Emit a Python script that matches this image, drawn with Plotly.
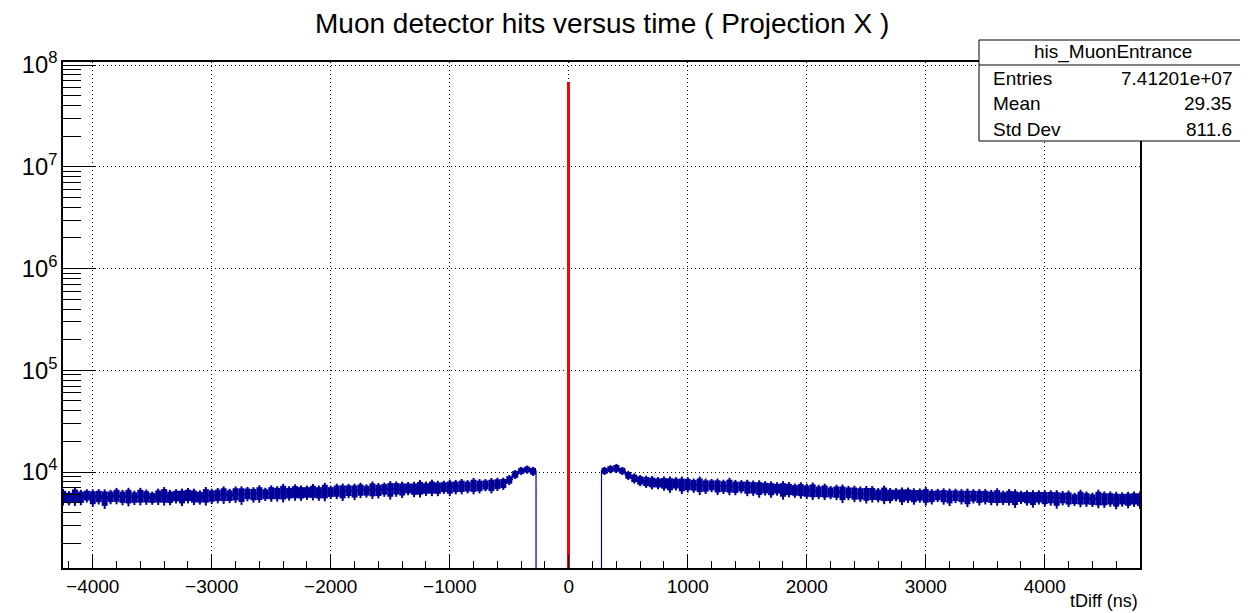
import numpy as np
import plotly.graph_objects as go

# ---------------- data ----------------
bin_width = 50.0
first_center = -4250.0

# blue histogram (tDiff, ns) counts per 50 ns bin
left_vals = [
    5750, 5600, 5850, 5700, 5900, 5650, 5800, 5550, 5750, 5900, 5700, 5800, 5650, 5850, 5750, 5600,
    5800, 5900, 5700, 5850, 5750, 5950, 5800, 5700, 5900, 5850,
    5950, 6050, 5900, 6100, 6000, 6150, 6050, 6200, 6100, 6250, 6200, 6350, 6250, 6400, 6300,
    6350, 6450, 6300, 6500, 6400, 6550, 6450, 6600, 6500, 6700, 6600, 6750, 6650, 6800, 6750,
    6900, 6800, 6950, 6850, 7000, 6950, 7100, 7000, 7150, 7100,
    7200, 7300, 7250, 7400, 7350, 7500, 7450, 7650, 7750,
    8400, 9500, 10300, 10600, 10200,
]
gap_vals = [0] * 11
right_vals = [
    10300, 10700, 10900, 10300, 9300, 8700, 8300, 8100, 7950, 7850,
    7800, 7650, 7750, 7550, 7600, 7450, 7500, 7350, 7450, 7300, 7250, 7350, 7150, 7250, 7100,
    7050, 6950, 7000, 6850, 6900, 6750, 6800, 6650, 6700, 6550, 6600, 6450, 6500, 6350, 6400,
    6250, 6300, 6200, 6150, 6100,
    6150, 6000, 6100, 5950, 6050, 5900, 6000, 5850, 5950, 5900, 5800, 5950, 5850, 5750, 5900,
    5800, 5700, 5850, 5750, 5800,
    5700, 5800, 5650, 5750, 5600, 5700, 5650, 5550, 5700, 5600, 5650, 5500, 5600, 5550, 5450,
    5600, 5500, 5400, 5550, 5450, 5500, 5350, 5450, 5400, 5500, 5400,
]
# bin-to-bin spread (percent) seen as the thickness of the band
left_spread = [
    16, 14, 18, 15, 13, 17, 15, 19, 14, 16, 15, 18, 14, 17, 15, 13, 16, 18, 15, 14, 17, 15, 16, 14, 18, 15,
    15, 17, 14, 16, 18, 14, 15, 17, 13, 16, 15, 18, 14, 16, 15,
    14, 16, 15, 18, 13, 15, 17, 14, 16, 15, 13, 17, 15, 14, 18, 15, 16, 13, 15, 17, 14, 16, 15, 13, 16,
    14, 15, 13, 16, 14, 12, 15, 13, 12,
    10, 9, 8, 8, 9,
]
gap_spread = [0] * 11
right_spread = [
    8, 8, 9, 8, 9, 10, 11, 12, 13, 12,
    14, 16, 13, 17, 15, 14, 18, 15, 13, 16, 14, 17, 15, 13, 16,
    15, 17, 14, 16, 13, 18, 15, 14, 16, 15, 17, 14, 16, 13, 15, 18, 14, 16, 15, 17,
    16, 14, 18, 15, 13, 17, 15, 16, 14, 18, 15, 13, 16, 17, 14, 15, 18, 14, 16, 15,
    15, 17, 14, 16, 18, 13, 15, 17, 14, 16, 15, 18, 14, 16, 13, 17, 15, 14, 18, 16, 15, 17, 14, 16, 15, 17,
]

# red histogram: the prompt peak
red_x = [0.0]
red_vals = [6.8e7]

stats_title = "his_MuonEntrance"
stats_names = ["Entries", "Mean", "Std Dev"]
stats_values = ["7.41201e+07", "29.35", "811.6"]

x_range = [-4250, 4800]
y_range = [3.057, 8.03]   # log10

# ---------------- build ----------------
vals = np.array(left_vals + gap_vals + right_vals, dtype=float)
spread = np.array(left_spread + gap_spread + right_spread, dtype=float) / 100.0
centers = first_center + bin_width * np.arange(len(vals))

y_floor = 10 ** (y_range[0] - 1)
y_plot = np.where(vals > 0, vals, y_floor)
err = np.where(vals > 0, vals * spread, 0.0)
spikes = err * 1.15
core = err * 0.85

navy = "#000099"
font_family = "Liberation Sans, Arial, Helvetica, sans-serif"

fig = go.Figure()

fig.add_trace(go.Bar(
    x=red_x, y=red_vals, width=25, marker=dict(color="#ff0000", line=dict(width=0)),
    showlegend=False, hoverinfo="skip",
))

# thin spikes (full spread)
fig.add_trace(go.Scatter(
    x=centers, y=y_plot, mode="lines",
    line=dict(color=navy, width=1.2, shape="hvh"),
    error_y=dict(type="data", array=spikes, arrayminus=spikes, color=navy, thickness=2, width=0),
    showlegend=False, hoverinfo="skip",
))
# dense core of the band
fig.add_trace(go.Scatter(
    x=centers, y=y_plot, mode="lines",
    line=dict(color=navy, width=0),
    error_y=dict(type="data", array=core, arrayminus=core, color=navy, thickness=6, width=0),
    showlegend=False, hoverinfo="skip",
))

# figure sits inside the page body (8 px margin)
W, H = 1240, 605
L, R, T, B = 55, 108, 54, 45
pw, ph = W - L - R, H - T - B
OFF = 8  # page offset of the figure


def px(x):
    return (x - OFF - L) / pw


def py(y):
    return (H - B - (y - OFF)) / ph


shapes = [
    dict(type="rect", xref="paper", yref="paper", x0=px(979), x1=px(1247), y0=py(141), y1=py(40),
         line=dict(color="black", width=1), fillcolor="white", layer="above"),
    dict(type="line", xref="paper", yref="paper", x0=px(979), x1=px(1247), y0=py(65), y1=py(65),
         line=dict(color="black", width=1), layer="above"),
]

annotations = [
    dict(text="Muon detector hits versus time ( Projection X )", xref="paper", yref="paper",
         x=px(601.5), y=py(24), xanchor="center", yanchor="middle", showarrow=False,
         font=dict(size=28, color="black", family=font_family)),
    dict(text="tDiff (ns)", xref="paper", yref="paper", x=1.0, y=py(601),
         xanchor="right", yanchor="middle", showarrow=False,
         font=dict(size=18, color="black", family=font_family)),
    dict(text=stats_title, xref="paper", yref="paper", x=px(1113), y=py(52),
         xanchor="center", yanchor="middle", showarrow=False,
         font=dict(size=19, color="black", family=font_family)),
]
for i, (n, v) in enumerate(zip(stats_names, stats_values)):
    yy = py(78 + 25.5 * i)
    annotations.append(dict(text=n, xref="paper", yref="paper", x=px(991), y=yy,
                            xanchor="left", yanchor="middle", showarrow=False,
                            font=dict(size=19, color="black", family=font_family)))
    annotations.append(dict(text=v, xref="paper", yref="paper", x=px(1234), y=yy,
                            xanchor="right", yanchor="middle", showarrow=False,
                            font=dict(size=19, color="black", family=font_family)))

fig.update_layout(
    width=W, height=H,
    margin=dict(l=L, r=R, t=T, b=B, pad=0),
    paper_bgcolor="white", plot_bgcolor="white",
    shapes=shapes, annotations=annotations,
    font=dict(family=font_family, color="black"),
    bargap=0,
)

fig.update_xaxes(
    range=x_range, dtick=1000, tick0=0,
    ticks="inside", ticklen=13, tickwidth=1, tickcolor="black",
    minor=dict(dtick=200, tick0=0, ticks="inside", ticklen=7, tickwidth=1, tickcolor="black", showgrid=False),
    showgrid=True, gridcolor="black", griddash="1px,3px", gridwidth=1,
    showline=True, linecolor="black", linewidth=1.5, mirror=True,
    zeroline=False, tickfont=dict(size=19, color="black", family=font_family),
)
fig.update_yaxes(
    type="log", range=y_range, dtick=1,
    exponentformat="power",
    ticks="inside", ticklen=33, tickwidth=1, tickcolor="black",
    minor=dict(dtick="D1", ticks="inside", ticklen=18, tickwidth=1, tickcolor="black", showgrid=False),
    showgrid=True, gridcolor="black", griddash="1px,3px", gridwidth=1,
    showline=True, linecolor="black", linewidth=1.5, mirror=True,
    zeroline=False, tickfont=dict(size=19, color="black", family=font_family),
)

fig.write_html("out.html")
